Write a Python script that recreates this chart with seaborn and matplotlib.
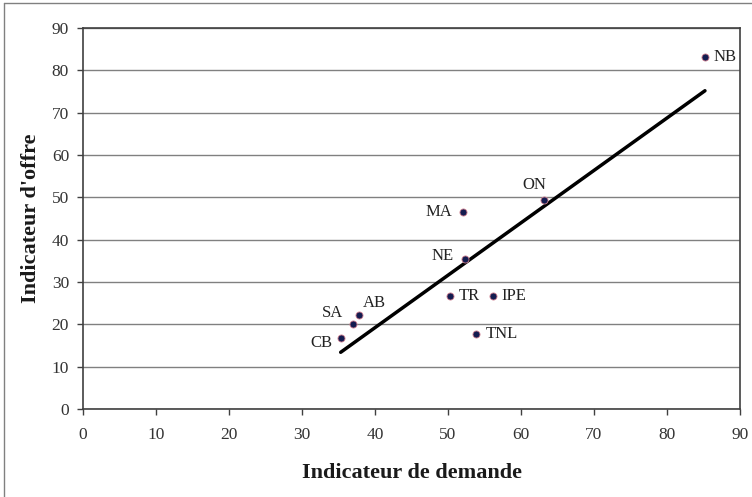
import numpy as np
import matplotlib
matplotlib.use('Agg')
import matplotlib.pyplot as plt
import seaborn as sns
import pandas as pd
from matplotlib.lines import Line2D

# values
regions = ['NB', 'ON', 'MA', 'NE', 'TR', 'IPE', 'TNL', 'AB', 'SA', 'CB']
demande = [85.2, 63.2, 52.1, 52.3, 50.3, 56.2, 53.8, 37.8, 37.0, 35.3]
offre = [83.2, 49.4, 46.5, 35.4, 26.7, 26.7, 17.7, 22.2, 20.1, 16.8]

df = pd.DataFrame({'region': regions, 'demande': demande, 'offre': offre})

sns.set_theme(style='white')
plt.rcParams['font.family'] = ['Liberation Serif', 'DejaVu Serif']

fig = plt.figure(figsize=(7.52, 4.97), dpi=100)
ax = fig.add_axes([83 / 752, 1 - 409 / 497, (740 - 83) / 752, (409 - 28) / 497])

# horizontal gridlines
ax.yaxis.grid(True, color='#808080', linewidth=1.0)
ax.set_axisbelow(True)

# linear trend line (same as the Excel one)
sns.regplot(data=df, x='demande', y='offre', scatter=False, ci=None,
            line_kws={'color': 'black', 'linewidth': 2.5}, ax=ax)

sns.scatterplot(data=df, x='demande', y='offre', ax=ax, s=26,
                color='#141c50', edgecolor='#d08090', linewidth=0.6, zorder=5)

# label offsets in points (placement only)
offs = {'NB': (6, 0, 'left'), 'ON': (-16, 11, 'left'), 'MA': (-8, 0, 'right'),
        'NE': (-8, 2, 'right'), 'TR': (6, 0, 'left'), 'IPE': (6, 0, 'left'),
        'TNL': (7, 0, 'left'), 'AB': (3, 9, 'left'), 'SA': (-7, 8, 'right'),
        'CB': (-6, -4, 'right')}
for r, x, y in zip(regions, demande, offre):
    dx, dy, ha = offs[r]
    ax.annotate(r, (x, y), xytext=(dx, dy), textcoords='offset points',
                ha=ha, va='center', fontsize=12, color='#222222')

ax.set_xlim(0, 90)
ax.set_ylim(0, 90)
ax.set_xticks(np.arange(0, 91, 10))
ax.set_yticks(np.arange(0, 91, 10))
ax.tick_params(axis='both', direction='out', length=4, width=1, color='#404040',
               labelsize=12.5, labelcolor='#333333', pad=6, bottom=True, left=True)
ax.tick_params(axis='x', pad=9)
for sp in ax.spines.values():
    sp.set_color('#404040')
    sp.set_linewidth(1.2)

ax.set_xlabel('Indicateur de demande', fontsize=16, fontweight='bold', labelpad=14,
              color='#1a1a1a')
ax.set_ylabel("Indicateur d'offre", fontsize=16, fontweight='bold', labelpad=8,
              color='#1a1a1a')

# outer chart border (left and top visible in the crop)
fig.add_artist(Line2D([4 / 752, 4 / 752], [0, 1 - 3 / 497], transform=fig.transFigure,
                      color='#808080', linewidth=1))
fig.add_artist(Line2D([4 / 752, 1], [1 - 3 / 497, 1 - 3 / 497], transform=fig.transFigure,
                      color='#808080', linewidth=1))

fig.savefig('out.png', dpi=100)
